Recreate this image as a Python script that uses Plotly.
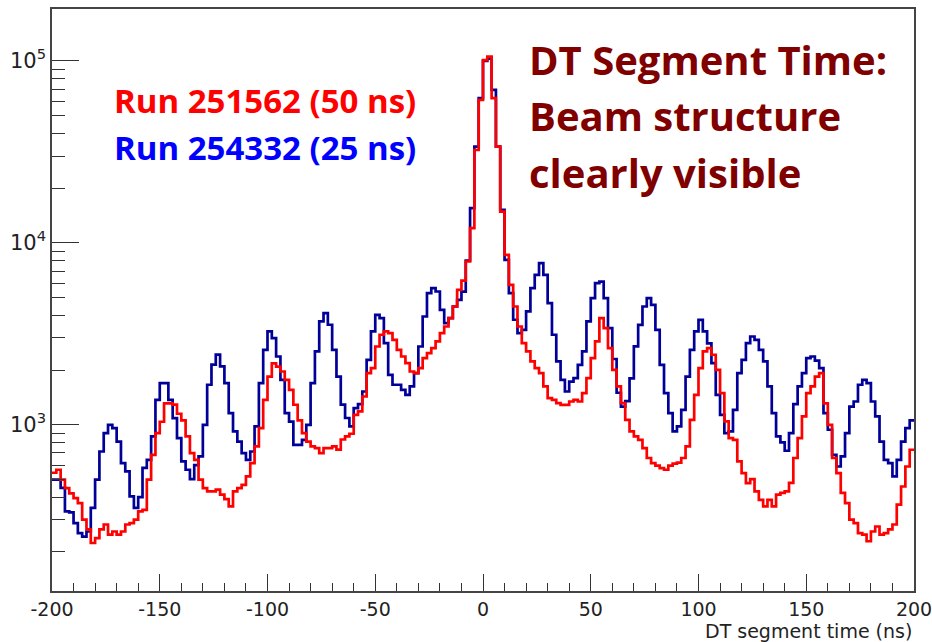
import numpy as np
import plotly.graph_objects as go

# DT segment time histogram: 200 bins of 2 ns from -200 to 200 ns
bin_width = 2.0
t_min, t_max = -200.0, 200.0

# Run 254332 (25 ns bunch spacing), entries per bin
run_254332 = [
    500, 500, 450, 334, 330, 288, 254, 243, 259, 349,
    499, 713, 900, 1000, 959, 809, 615, 554, 404, 349,
    400, 580, 642, 863, 1372, 1695, 1695, 1372, 1088, 845,
    629, 566, 503, 600, 670, 1000, 1660, 2140, 2430, 2094,
    1695, 1158, 919, 809, 699, 642, 713, 979, 1695, 2583,
    3259, 2993, 2374, 1766, 1158, 1040, 776, 776, 827, 1000,
    1695, 2530, 3700, 4111, 3548, 2583, 1842, 1290, 1090, 980,
    1235, 1300, 1524, 2274, 3259, 4020, 3857, 2811, 1883, 1660,
    1660, 1556, 1462, 1625, 1923, 2694, 3937, 5292, 5641, 5403,
    4285, 3623, 3857, 4470, 4863, 5400, 8000, 15520, 33840, 62400,
    100000, 103000, 69400, 33800, 15170, 8066, 5300, 3780, 3190, 3325,
    4200, 5640, 6670, 7730, 6670, 4670, 3126, 2230, 1766, 1524,
    1729, 1804, 2137, 2530, 3700, 4966, 6010, 6125, 4966, 3400,
    2300, 1500, 1260, 1350, 1800, 2700, 3540, 4470, 4966, 4565,
    3325, 2137, 1494, 1158, 919, 979, 1209, 1842, 2583, 3259,
    3776, 3259, 2800, 2181, 1462, 1135, 900, 919, 1209, 1923,
    2274, 2811, 3057, 2931, 2583, 2230, 1625, 1158, 863, 800,
    720, 900, 1300, 1625, 1923, 2323, 2374, 2250, 2048, 1158,
    939, 684, 590, 670, 900, 1260, 1343, 1660, 1766, 1695,
    1343, 1111, 809, 642, 615, 520, 642, 809, 959, 1057,
]

# Run 251562 (50 ns bunch spacing), entries per bin
run_251562 = [
    545, 566, 500, 449, 420, 395, 371, 301, 266, 224,
    238, 266, 283, 249, 259, 249, 259, 283, 288, 301,
    334, 341, 499, 684, 900, 1039, 1312, 1312, 1290, 1150,
    1057, 863, 699, 642, 499, 449, 431, 431, 440, 413,
    390, 356, 431, 449, 468, 520, 615, 760, 959, 1372,
    1842, 2177, 2090, 1963, 1766, 1556, 1289, 1057, 900, 809,
    760, 745, 699, 745, 745, 760, 730, 830, 863, 893,
    1135, 1184, 1431, 1923, 2048, 2694, 3126, 3259, 3190, 2931,
    2583, 2374, 2181, 1963, 1923, 2048, 2323, 2475, 2636, 2871,
    3190, 3470, 3857, 4470, 5520, 6200, 7900, 12050, 32400, 61100,
    101000, 105700, 62400, 33800, 14860, 8590, 5880, 4470, 3470, 2811,
    2530, 2230, 2048, 1923, 1625, 1401, 1372, 1315, 1288, 1288,
    1343, 1372, 1343, 1494, 1804, 2323, 2871, 3857, 3400, 2636,
    2005, 1625, 1315, 1065, 919, 863, 827, 745, 657, 615,
    596, 578, 566, 596, 611, 620, 657, 760, 1065, 1462,
    2048, 2530, 2636, 2427, 2005, 1494, 1043, 845, 827, 629,
    542, 478, 503, 431, 387, 356, 387, 356, 413, 422,
    431, 480, 657, 845, 1111, 1494, 1625, 1842, 1923, 1312,
    1000, 657, 542, 422, 371, 301, 288, 254, 249, 229,
    259, 276, 249, 254, 266, 283, 364, 458, 590, 729,
]

x_ticks = [-200, -150, -100, -50, 0, 50, 100, 150, 200]
x_tick_text = ["-200", "-150", "-100", "-50", "0", "50", "100", "150", "200"]
y_ticks = [1e3, 1e4, 1e5]
y_tick_text = ["10<sup>3</sup>", "10<sup>4</sup>", "10<sup>5</sup>"]
y_minor = [v * m for v in (100, 1000, 10000) for m in range(2, 10)]

edges = np.arange(t_min, t_max + bin_width / 2, bin_width)


def step_trace(values, color):
    # draw a histogram outline: each bin value held across its bin
    y = list(values) + [values[-1]]
    return go.Scatter(
        x=edges, y=y, mode="lines", line_shape="hv",
        line=dict(color=color, width=2.7), showlegend=False,
        hoverinfo="skip",
    )


fig = go.Figure()
fig.add_trace(step_trace(run_254332, "#000099"))
fig.add_trace(step_trace(run_251562, "#ff0000"))

sans = "DejaVu Sans, Liberation Sans, sans-serif"

fig.update_layout(
    width=932, height=642,
    margin=dict(l=52, r=18, t=9, b=51),
    paper_bgcolor="white", plot_bgcolor="white",
)

fig.update_xaxes(
    range=[t_min, t_max], tickvals=x_ticks, ticktext=x_tick_text,
    ticks="inside", ticklen=17, automargin=False, ticklabeloverflow="allow",
    tickwidth=1.3, tickcolor="#333333", showline=True, linecolor="#444444",
    linewidth=1.6, mirror=True, showgrid=False, zeroline=False,
    tickfont=dict(family=sans, size=19, color="#222222"),
    minor=dict(dtick=10, tick0=0, ticks="inside", ticklen=8, tickwidth=1.2,
               tickcolor="#333333", showgrid=False),
)

fig.update_yaxes(
    type="log", range=[np.log10(122), np.log10(193000)], automargin=False,
    ticklabeloverflow="allow",
    tickvals=y_ticks, ticktext=y_tick_text, ticks="inside", ticklen=27,
    tickwidth=1.3, tickcolor="#333333", showline=True, linecolor="#444444",
    linewidth=1.6, mirror=True, showgrid=False, zeroline=False,
    tickfont=dict(family=sans, size=21, color="#222222"),
    minor=dict(tickvals=y_minor, ticks="inside", ticklen=13, tickwidth=1.2,
               tickcolor="#333333", showgrid=False),
)

label_font = "Open Sans, Noto Sans, sans-serif"
annotations = [
    dict(text="<b>Run 251562 (50 ns)</b>", x=0.0696, y=0.8436, color="#ff0000", size=33),
    dict(text="<b>Run 254332 (25 ns)</b>", x=0.0696, y=0.7612, color="#0000ff", size=33),
    dict(text="<b>DT Segment Time:</b>", x=0.551, y=0.914, color="#800000", size=40),
    dict(text="<b>Beam structure</b>", x=0.551, y=0.817, color="#800000", size=40),
    dict(text="<b>clearly visible</b>", x=0.551, y=0.719, color="#800000", size=40),
]
for a in annotations:
    fig.add_annotation(
        text=a["text"], x=a["x"], y=a["y"], xref="paper", yref="paper",
        xanchor="left", yanchor="middle", showarrow=False,
        font=dict(family=label_font, size=a["size"], color=a["color"]),
    )

# axis title, right-aligned under the x axis as in ROOT
fig.add_annotation(
    text="DT segment time (ns)", x=1.0, y=-0.0695, xref="paper", yref="paper",
    xanchor="right", yanchor="middle", showarrow=False,
    font=dict(family=sans, size=19, color="#222222"),
)

fig.write_html("out.html")
